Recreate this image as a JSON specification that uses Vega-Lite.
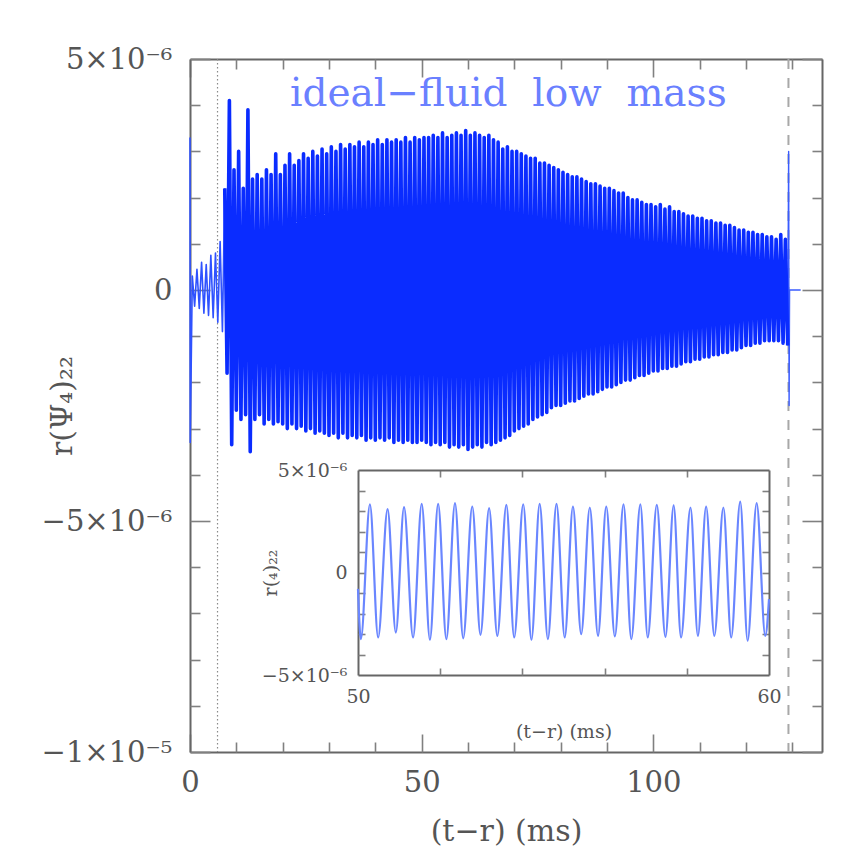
{
  "$schema": "https://vega.github.io/schema/vega-lite/v6.json",
  "width": 632,
  "height": 693,
  "autosize": {"type": "none"},
  "padding": {"left": 190, "top": 59, "right": 30, "bottom": 101},
  "background": "white",
  "config": {
    "view": {"stroke": null},
    "axis": {
      "grid": false,
      "domainColor": "#666666",
      "domainWidth": 2,
      "tickColor": "#808080",
      "tickWidth": 1.6,
      "labelFont": "DejaVu Serif",
      "labelColor": "#555555",
      "titleFont": "DejaVu Serif",
      "titleColor": "#555555",
      "titleFontWeight": "normal",
      "labelFlush": false,
      "labelOverlap": false
    }
  },
  "datasets": {
    "wave": [
      {"t":0,"v":3.3e-6},{"t":0.05,"v":-3.3e-6},
      {"t":0.5,"v":0.3e-6},{"t":1,"v":-0.35e-6},{"t":1.5,"v":0.45e-6},{"t":2,"v":-0.4e-6},
      {"t":2.5,"v":0.6e-6},{"t":3,"v":-0.5e-6},{"t":3.5,"v":0.55e-6},{"t":4,"v":-0.55e-6},
      {"t":4.5,"v":0.75e-6},{"t":5,"v":-0.6e-6},{"t":5.5,"v":0.8e-6},{"t":6,"v":-0.7e-6},
      {"t":6.5,"v":1.05e-6},{"t":7,"v":-0.9e-6},{"t":7.5,"v":2.2e-6},{"t":8,"v":-1.8e-6},
      {"t":8.5,"v":4.1e-6},{"t":9,"v":-3.35e-6},{"t":9.5,"v":2.6e-6},{"t":10,"v":-2.6e-6},
      {"t":10.5,"v":3.0e-6},{"t":11,"v":-2.8e-6},{"t":11.5,"v":2.2e-6},{"t":12,"v":-2.7e-6},
      {"t":12.5,"v":3.9e-6},{"t":13,"v":-3.5e-6},{"t":13.5,"v":2.4e-6},{"t":14,"v":-2.8e-6},
      {"t":14.5,"v":2.5e-6},{"t":15,"v":-2.7e-6},{"t":15.5,"v":2.4e-6},{"t":16,"v":-2.9e-6},
      {"t":16.5,"v":2.6e-6},{"t":17,"v":-2.8e-6},{"t":17.5,"v":2.5e-6},{"t":18,"v":-2.9e-6},
      {"t":18.5,"v":2.95e-6},{"t":19,"v":-2.85e-6},{"t":19.5,"v":2.5e-6},{"t":20,"v":-2.9e-6},
      {"t":20.5,"v":2.7e-6},{"t":21,"v":-3.0e-6},{"t":21.5,"v":2.95e-6},{"t":22,"v":-2.9e-6},
      {"t":22.5,"v":2.7e-6},{"t":23,"v":-3.0e-6},{"t":23.5,"v":2.8e-6},{"t":24,"v":-2.95e-6},
      {"t":24.5,"v":2.95e-6},{"t":25,"v":-3.05e-6},{"t":25.5,"v":2.85e-6},{"t":26,"v":-3.0e-6},
      {"t":26.5,"v":3.0e-6},{"t":27,"v":-3.1e-6},{"t":27.5,"v":2.9e-6},{"t":28,"v":-3.05e-6},
      {"t":28.5,"v":3.05e-6},{"t":29,"v":-3.1e-6},{"t":29.5,"v":2.95e-6},{"t":30,"v":-3.15e-6},
      {"t":30.5,"v":3.1e-6},{"t":31,"v":-3.1e-6},{"t":31.5,"v":3.0e-6},{"t":32,"v":-3.2e-6},
      {"t":32.5,"v":3.15e-6},{"t":33,"v":-3.1e-6},{"t":33.5,"v":3.05e-6},{"t":34,"v":-3.2e-6},
      {"t":34.5,"v":3.15e-6},{"t":35,"v":-3.15e-6},{"t":35.5,"v":3.1e-6},{"t":36,"v":-3.2e-6},
      {"t":36.5,"v":3.2e-6},{"t":37,"v":-3.15e-6},{"t":37.5,"v":3.1e-6},{"t":38,"v":-3.25e-6},
      {"t":38.5,"v":3.2e-6},{"t":39,"v":-3.2e-6},{"t":39.5,"v":3.15e-6},{"t":40,"v":-3.25e-6},
      {"t":40.5,"v":3.25e-6},{"t":41,"v":-3.2e-6},{"t":41.5,"v":3.15e-6},{"t":42,"v":-3.25e-6},
      {"t":42.5,"v":3.25e-6},{"t":43,"v":-3.2e-6},{"t":43.5,"v":3.2e-6},{"t":44,"v":-3.3e-6},
      {"t":44.5,"v":3.25e-6},{"t":45,"v":-3.25e-6},{"t":45.5,"v":3.2e-6},{"t":46,"v":-3.3e-6},
      {"t":46.5,"v":3.3e-6},{"t":47,"v":-3.25e-6},{"t":47.5,"v":3.2e-6},{"t":48,"v":-3.3e-6},
      {"t":48.5,"v":3.3e-6},{"t":49,"v":-3.3e-6},{"t":49.5,"v":3.25e-6},{"t":50,"v":-3.25e-6},
      {"t":50.5,"v":3.3e-6},{"t":51,"v":-3.3e-6},{"t":51.5,"v":3.3e-6},{"t":52,"v":-3.35e-6},
      {"t":52.5,"v":3.35e-6},{"t":53,"v":-3.3e-6},{"t":53.5,"v":3.3e-6},{"t":54,"v":-3.35e-6},
      {"t":54.5,"v":3.4e-6},{"t":55,"v":-3.3e-6},{"t":55.5,"v":3.3e-6},{"t":56,"v":-3.4e-6},
      {"t":56.5,"v":3.35e-6},{"t":57,"v":-3.35e-6},{"t":57.5,"v":3.4e-6},{"t":58,"v":-3.4e-6},
      {"t":58.5,"v":3.35e-6},{"t":59,"v":-3.35e-6},{"t":59.5,"v":3.45e-6},{"t":60,"v":-3.45e-6},
      {"t":60.5,"v":3.35e-6},{"t":61,"v":-3.4e-6},{"t":61.5,"v":3.4e-6},{"t":62,"v":-3.35e-6},
      {"t":62.5,"v":3.35e-6},{"t":63,"v":-3.4e-6},{"t":63.5,"v":3.3e-6},{"t":64,"v":-3.3e-6},
      {"t":64.5,"v":3.35e-6},{"t":65,"v":-3.35e-6},{"t":65.5,"v":3.25e-6},{"t":66,"v":-3.3e-6},
      {"t":66.5,"v":3.2e-6},{"t":67,"v":-3.25e-6},{"t":67.5,"v":3.05e-6},{"t":68,"v":-3.2e-6},
      {"t":68.5,"v":3.1e-6},{"t":69,"v":-3.15e-6},{"t":69.5,"v":3.0e-6},{"t":70,"v":-3.05e-6},
      {"t":70.5,"v":3.0e-6},{"t":71,"v":-3.0e-6},{"t":71.5,"v":2.95e-6},{"t":72,"v":-2.95e-6},
      {"t":72.5,"v":2.9e-6},{"t":73,"v":-2.9e-6},{"t":73.5,"v":2.85e-6},{"t":74,"v":-2.8e-6},
      {"t":74.5,"v":2.85e-6},{"t":75,"v":-2.75e-6},{"t":75.5,"v":2.75e-6},{"t":76,"v":-2.7e-6},
      {"t":76.5,"v":2.75e-6},{"t":77,"v":-2.65e-6},{"t":77.5,"v":2.7e-6},{"t":78,"v":-2.55e-6},
      {"t":78.5,"v":2.65e-6},{"t":79,"v":-2.5e-6},{"t":79.5,"v":2.6e-6},{"t":80,"v":-2.5e-6},
      {"t":80.5,"v":2.55e-6},{"t":81,"v":-2.45e-6},{"t":81.5,"v":2.5e-6},{"t":82,"v":-2.4e-6},
      {"t":82.5,"v":2.45e-6},{"t":83,"v":-2.4e-6},{"t":83.5,"v":2.45e-6},{"t":84,"v":-2.35e-6},
      {"t":84.5,"v":2.4e-6},{"t":85,"v":-2.3e-6},{"t":85.5,"v":2.35e-6},{"t":86,"v":-2.25e-6},
      {"t":86.5,"v":2.3e-6},{"t":87,"v":-2.25e-6},{"t":87.5,"v":2.3e-6},{"t":88,"v":-2.2e-6},
      {"t":88.5,"v":2.25e-6},{"t":89,"v":-2.15e-6},{"t":89.5,"v":2.2e-6},{"t":90,"v":-2.1e-6},
      {"t":90.5,"v":2.2e-6},{"t":91,"v":-2.1e-6},{"t":91.5,"v":2.15e-6},{"t":92,"v":-2.05e-6},
      {"t":92.5,"v":2.1e-6},{"t":93,"v":-2.0e-6},{"t":93.5,"v":2.1e-6},{"t":94,"v":-1.95e-6},
      {"t":94.5,"v":2.0e-6},{"t":95,"v":-1.95e-6},{"t":95.5,"v":1.95e-6},{"t":96,"v":-1.9e-6},
      {"t":96.5,"v":1.95e-6},{"t":97,"v":-1.85e-6},{"t":97.5,"v":1.9e-6},{"t":98,"v":-1.85e-6},
      {"t":98.5,"v":1.85e-6},{"t":99,"v":-1.8e-6},{"t":99.5,"v":1.85e-6},{"t":100,"v":-1.75e-6},
      {"t":100.5,"v":1.8e-6},{"t":101,"v":-1.75e-6},{"t":101.5,"v":1.85e-6},{"t":102,"v":-1.7e-6},
      {"t":102.5,"v":1.75e-6},{"t":103,"v":-1.7e-6},{"t":103.5,"v":1.8e-6},{"t":104,"v":-1.65e-6},
      {"t":104.5,"v":1.7e-6},{"t":105,"v":-1.65e-6},{"t":105.5,"v":1.7e-6},{"t":106,"v":-1.6e-6},
      {"t":106.5,"v":1.65e-6},{"t":107,"v":-1.55e-6},{"t":107.5,"v":1.6e-6},{"t":108,"v":-1.55e-6},
      {"t":108.5,"v":1.6e-6},{"t":109,"v":-1.5e-6},{"t":109.5,"v":1.55e-6},{"t":110,"v":-1.5e-6},
      {"t":110.5,"v":1.55e-6},{"t":111,"v":-1.45e-6},{"t":111.5,"v":1.5e-6},{"t":112,"v":-1.45e-6},
      {"t":112.5,"v":1.5e-6},{"t":113,"v":-1.4e-6},{"t":113.5,"v":1.45e-6},{"t":114,"v":-1.4e-6},
      {"t":114.5,"v":1.45e-6},{"t":115,"v":-1.35e-6},{"t":115.5,"v":1.4e-6},{"t":116,"v":-1.35e-6},
      {"t":116.5,"v":1.4e-6},{"t":117,"v":-1.3e-6},{"t":117.5,"v":1.35e-6},{"t":118,"v":-1.3e-6},
      {"t":118.5,"v":1.3e-6},{"t":119,"v":-1.25e-6},{"t":119.5,"v":1.3e-6},{"t":120,"v":-1.2e-6},
      {"t":120.5,"v":1.25e-6},{"t":121,"v":-1.2e-6},{"t":121.5,"v":1.25e-6},{"t":122,"v":-1.15e-6},
      {"t":122.5,"v":1.2e-6},{"t":123,"v":-1.15e-6},{"t":123.5,"v":1.2e-6},{"t":124,"v":-1.1e-6},
      {"t":124.5,"v":1.15e-6},{"t":125,"v":-1.1e-6},{"t":125.5,"v":1.15e-6},{"t":126,"v":-1.1e-6},
      {"t":126.5,"v":1.1e-6},{"t":127,"v":-1.1e-6},{"t":127.5,"v":1.2e-6},{"t":128,"v":-1.15e-6},
      {"t":128.5,"v":1.1e-6},{"t":129,"v":-1.2e-6},{"t":129.2,"v":3.0e-6},{"t":129.3,"v":-2.5e-6},
      {"t":129.4,"v":0},{"t":131.8,"v":0}
    ],
    "inset": [
      {"t":50.0,"v":-0.8e-6},{"t":50.07,"v":-3.25e-6},{"t":50.29,"v":3.33e-6},{"t":50.49,"v":-3.17e-6},
      {"t":50.72,"v":3.09e-6},{"t":50.92,"v":-2.93e-6},{"t":51.12,"v":3.19e-6},{"t":51.34,"v":-3.17e-6},
      {"t":51.55,"v":3.35e-6},{"t":51.75,"v":-3.28e-6},{"t":51.95,"v":3.35e-6},{"t":52.15,"v":-3.25e-6},
      {"t":52.36,"v":3.38e-6},{"t":52.56,"v":-3.21e-6},{"t":52.78,"v":3.22e-6},{"t":52.98,"v":-3.04e-6},
      {"t":53.19,"v":3.14e-6},{"t":53.39,"v":-3.09e-6},{"t":53.61,"v":3.30e-6},{"t":53.80,"v":-3.17e-6},
      {"t":54.02,"v":3.33e-6},{"t":54.22,"v":-3.28e-6},{"t":54.42,"v":3.35e-6},{"t":54.62,"v":-3.25e-6},
      {"t":54.83,"v":3.35e-6},{"t":55.03,"v":-3.17e-6},{"t":55.23,"v":3.22e-6},{"t":55.43,"v":-3.01e-6},
      {"t":55.64,"v":3.17e-6},{"t":55.84,"v":-3.09e-6},{"t":56.04,"v":3.22e-6},{"t":56.25,"v":-3.12e-6},
      {"t":56.46,"v":3.33e-6},{"t":56.65,"v":-3.25e-6},{"t":56.87,"v":3.33e-6},{"t":57.05,"v":-3.17e-6},
      {"t":57.27,"v":3.30e-6},{"t":57.48,"v":-3.14e-6},{"t":57.68,"v":3.27e-6},{"t":57.86,"v":-3.17e-6},
      {"t":58.09,"v":3.17e-6},{"t":58.27,"v":-3.09e-6},{"t":58.47,"v":3.22e-6},{"t":58.67,"v":-3.09e-6},
      {"t":58.89,"v":3.17e-6},{"t":59.08,"v":-3.17e-6},{"t":59.30,"v":3.46e-6},{"t":59.48,"v":-3.33e-6},
      {"t":59.70,"v":3.38e-6},{"t":59.91,"v":-3.09e-6},{"t":60.0,"v":-1.3e-6}
    ]
  },
  "resolve": {
    "scale": {"x": "independent", "y": "independent"},
    "axis": {"x": "independent", "y": "independent"}
  },
  "layer": [
    {
      "data": {"values": [{"t": 5.94}]},
      "mark": {"type": "rule", "color": "#8a8a8a", "strokeWidth": 1.2, "strokeDash": [1.5, 2.5]},
      "encoding": {
        "x": {"field": "t", "type": "quantitative", "scale": {"domain": [0, 136.4], "nice": false, "zero": false}, "axis": null}
      }
    },
    {
      "data": {"values": [{"t": 129.16}]},
      "mark": {"type": "rule", "color": "#a8a8a8", "strokeWidth": 2, "strokeDash": [10, 9]},
      "encoding": {
        "x": {"field": "t", "type": "quantitative", "scale": {"domain": [0, 136.4], "nice": false, "zero": false}, "axis": null}
      }
    },
    {
      "data": {"name": "wave"},
      "transform": [{"filter": "datum.t <= 7.5"}],
      "mark": {"type": "line", "color": "#2f52ff", "strokeWidth": 1.6, "strokeJoin": "round"},
      "encoding": {
        "x": {"field": "t", "type": "quantitative", "scale": {"domain": [0, 136.4], "nice": false, "zero": false}, "axis": null},
        "y": {"field": "v", "type": "quantitative", "scale": {"domain": [-1e-5, 5e-6], "nice": false, "zero": false}, "axis": null}
      }
    },
    {
      "data": {"name": "wave"},
      "transform": [{"filter": "datum.t >= 129"}],
      "mark": {"type": "line", "color": "#3a5cff", "strokeWidth": 1.4, "strokeJoin": "round"},
      "encoding": {
        "x": {"field": "t", "type": "quantitative", "scale": {"domain": [0, 136.4], "nice": false, "zero": false}, "axis": null},
        "y": {"field": "v", "type": "quantitative", "scale": {"domain": [-1e-5, 5e-6], "nice": false, "zero": false}, "axis": null}
      }
    },
    {
      "data": {"name": "wave"},
      "transform": [{"filter": "datum.t >= 7.5 && datum.t <= 129"}],
      "mark": {"type": "line", "color": "#0a2cff", "strokeWidth": 3.6, "strokeJoin": "round"},
      "encoding": {
        "x": {"field": "t", "type": "quantitative", "scale": {"domain": [0, 136.4], "nice": false, "zero": false},
          "axis": {"orient": "bottom", "values": [0, 50, 100], "ticks": false, "tickSize": 0, "domain": true,
            "labelFontSize": 29, "labelPadding": 16, "title": "(t−r) (ms)", "titleFontSize": 30, "titlePadding": 19}},
        "y": {"field": "v", "type": "quantitative", "scale": {"domain": [-1e-5, 5e-6], "nice": false, "zero": false},
          "axis": {"orient": "left", "values": [-1e-5, -5e-6, 0, 5e-6], "ticks": false, "tickSize": 0, "domain": true,
            "labelExpr": "datum.value < -7e-6 ? '−1×10⁻⁵' : datum.value < -2e-6 ? '−5×10⁻⁶' : datum.value > 2e-6 ? '5×10⁻⁶' : '0'",
            "labelFontSize": 29, "labelPadding": 18, "title": "r(Ψ₄)₂₂", "titleFontSize": 30, "titleX": -128, "titleBaseline": "middle"}}
      }
    },
    {
      "data": {"values": [{"t": 50, "v": 0}]},
      "mark": {"type": "point", "opacity": 0},
      "encoding": {
        "x": {"field": "t", "type": "quantitative", "scale": {"domain": [0, 136.4], "nice": false, "zero": false},
          "axis": {"orient": "bottom", "values": [0, 50, 100], "labels": false, "domain": false, "tickSize": -18, "title": null}},
        "y": {"field": "v", "type": "quantitative", "scale": {"domain": [-1e-5, 5e-6], "nice": false, "zero": false},
          "axis": {"orient": "left", "values": [-1e-5, -5e-6, 0, 5e-6], "labels": false, "domain": false, "tickSize": -20, "title": null}}
      }
    },
    {
      "data": {"values": [{"t": 50, "v": 0}]},
      "mark": {"type": "point", "opacity": 0},
      "encoding": {
        "x": {"field": "t", "type": "quantitative", "scale": {"domain": [0, 136.4], "nice": false, "zero": false},
          "axis": {"orient": "bottom", "values": [10, 20, 30, 40, 60, 70, 80, 90, 110, 120, 130], "labels": false, "domain": false, "tickSize": -10, "title": null}},
        "y": {"field": "v", "type": "quantitative", "scale": {"domain": [-1e-5, 5e-6], "nice": false, "zero": false},
          "axis": {"orient": "left", "values": [-9e-6, -8e-6, -7e-6, -6e-6, -4e-6, -3e-6, -2e-6, -1e-6, 1e-6, 2e-6, 3e-6, 4e-6], "labels": false, "domain": false, "tickSize": -10, "title": null}}
      }
    },
    {
      "data": {"values": [{"t": 50, "v": 0}]},
      "mark": {"type": "point", "opacity": 0},
      "encoding": {
        "x": {"field": "t", "type": "quantitative", "scale": {"domain": [0, 136.4], "nice": false, "zero": false},
          "axis": {"orient": "top", "values": [0, 50, 100], "labels": false, "domain": true, "tickSize": -18, "title": null}},
        "y": {"field": "v", "type": "quantitative", "scale": {"domain": [-1e-5, 5e-6], "nice": false, "zero": false},
          "axis": {"orient": "right", "values": [-1e-5, -5e-6, 0, 5e-6], "labels": false, "domain": true, "tickSize": -20, "title": null}}
      }
    },
    {
      "data": {"values": [{"t": 50, "v": 0}]},
      "mark": {"type": "point", "opacity": 0},
      "encoding": {
        "x": {"field": "t", "type": "quantitative", "scale": {"domain": [0, 136.4], "nice": false, "zero": false},
          "axis": {"orient": "top", "values": [10, 20, 30, 40, 60, 70, 80, 90, 110, 120, 130], "labels": false, "domain": false, "tickSize": -10, "title": null}},
        "y": {"field": "v", "type": "quantitative", "scale": {"domain": [-1e-5, 5e-6], "nice": false, "zero": false},
          "axis": {"orient": "right", "values": [-9e-6, -8e-6, -7e-6, -6e-6, -4e-6, -3e-6, -2e-6, -1e-6, 1e-6, 2e-6, 3e-6, 4e-6], "labels": false, "domain": false, "tickSize": -10, "title": null}}
      }
    },
    {
      "data": {"values": [{"t": 68.7, "v": 4.24e-6, "label": "ideal−fluid\u00a0\u00a0low\u00a0\u00a0mass"}]},
      "mark": {"type": "text", "font": "DejaVu Serif", "fontSize": 39, "color": "#6a80ff", "align": "center", "baseline": "middle"},
      "encoding": {
        "x": {"field": "t", "type": "quantitative", "scale": {"domain": [0, 136.4], "nice": false, "zero": false}, "axis": null},
        "y": {"field": "v", "type": "quantitative", "scale": {"domain": [-1e-5, 5e-6], "nice": false, "zero": false}, "axis": null},
        "text": {"field": "label"}
      }
    },
    {
      "data": {"name": "inset"},
      "mark": {"type": "line", "color": "#6a86ff", "strokeWidth": 2.2, "interpolate": "monotone"},
      "encoding": {
        "x": {"field": "t", "type": "quantitative", "scale": {"domain": [50, 60], "range": [168, 579], "nice": false, "zero": false},
          "axis": {"orient": "bottom", "offset": -77, "values": [50, 60], "ticks": false, "tickSize": 0, "domain": true,
            "labelFontSize": 19, "labelPadding": 12, "title": "(t−r) (ms)", "titleFontSize": 19, "titlePadding": 16}},
        "y": {"field": "v", "type": "quantitative", "scale": {"domain": [-5e-6, 5e-6], "range": [616, 411], "nice": false, "zero": false},
          "axis": {"orient": "left", "offset": -168, "values": [-5e-6, 0, 5e-6], "ticks": false, "tickSize": 0, "domain": true,
            "labelExpr": "datum.value > 1e-6 ? '5×10⁻⁶' : datum.value < -1e-6 ? '−5×10⁻⁶' : '0'",
            "labelFontSize": 19, "labelPadding": 11, "title": "r(₄)₂₂", "titleFontSize": 19, "titleX": -88, "titleBaseline": "middle"}}
      }
    },
    {
      "data": {"values": [{"t": 55, "v": 0}]},
      "mark": {"type": "point", "opacity": 0},
      "encoding": {
        "x": {"field": "t", "type": "quantitative", "scale": {"domain": [50, 60], "range": [168, 579], "nice": false, "zero": false},
          "axis": {"orient": "bottom", "offset": -77, "values": [52, 54, 56, 58], "labels": false, "domain": false, "tickSize": -7, "title": null}},
        "y": {"field": "v", "type": "quantitative", "scale": {"domain": [-5e-6, 5e-6], "range": [616, 411], "nice": false, "zero": false},
          "axis": {"orient": "left", "offset": -168, "values": [-4e-6, -3e-6, -2e-6, -1e-6, 0, 1e-6, 2e-6, 3e-6, 4e-6], "labels": false, "domain": false, "tickSize": -7, "title": null}}
      }
    },
    {
      "data": {"values": [{"t": 55, "v": 0}]},
      "mark": {"type": "point", "opacity": 0},
      "encoding": {
        "x": {"field": "t", "type": "quantitative", "scale": {"domain": [50, 60], "range": [168, 579], "nice": false, "zero": false},
          "axis": {"orient": "top", "offset": -411, "values": [52, 54, 56, 58], "labels": false, "domain": true, "tickSize": -7, "title": null}},
        "y": {"field": "v", "type": "quantitative", "scale": {"domain": [-5e-6, 5e-6], "range": [616, 411], "nice": false, "zero": false},
          "axis": {"orient": "right", "offset": -53, "values": [-4e-6, -3e-6, -2e-6, -1e-6, 0, 1e-6, 2e-6, 3e-6, 4e-6], "labels": false, "domain": true, "tickSize": -7, "title": null}}
      }
    }
  ]
}
